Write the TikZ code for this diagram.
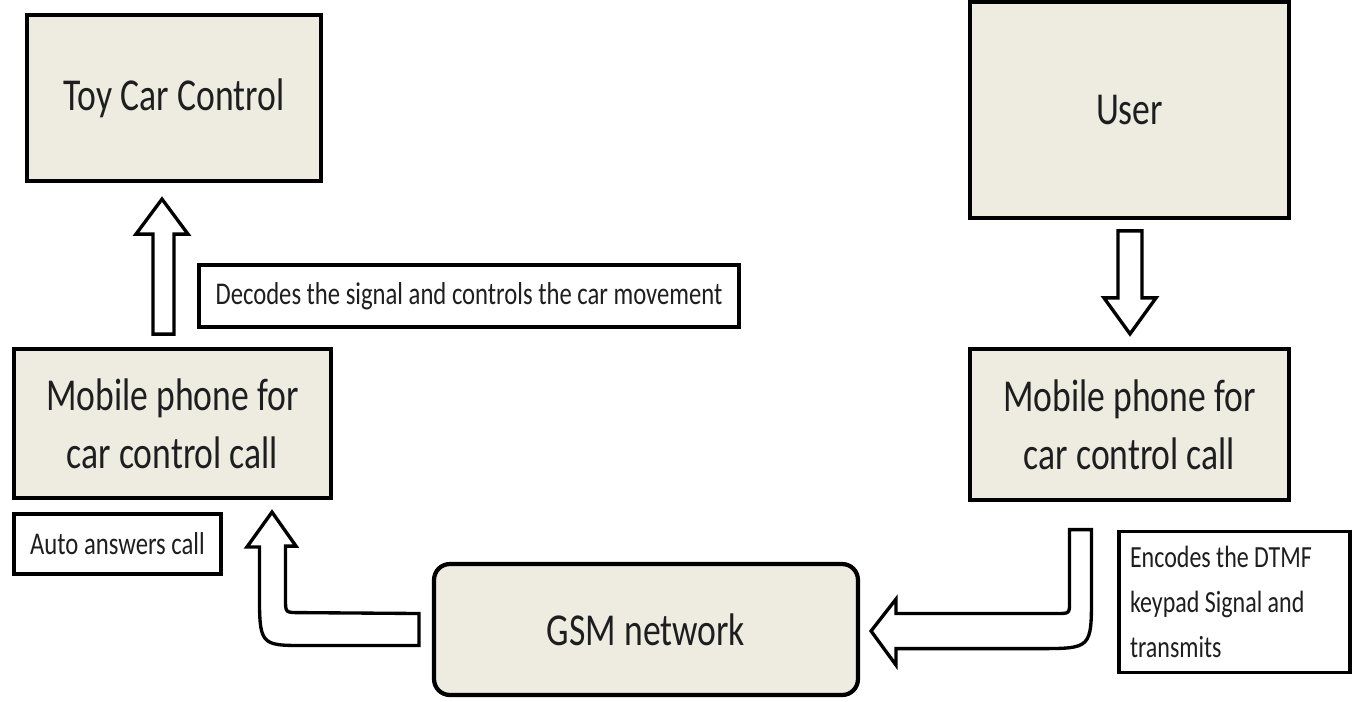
\documentclass[tikz,border=0pt]{standalone}
\usepackage{fontspec}
\setmainfont{Carlito}[FakeStretch=0.78]
\usetikzlibrary{calc}
\definecolor{boxfill}{HTML}{EEECE1}
\definecolor{ink}{HTML}{1E1E1E}
\tikzset{
  bigbox/.style={draw=black, line width=2.4pt, fill=boxfill, text=ink,
    align=center, font=\fontsize{26}{33}\selectfont},
  notebox/.style={draw=black, line width=2.2pt, fill=white, text=ink,
    font=\fontsize{18}{26}\selectfont},
  fatarrow/.style={draw=black, line width=1.9pt, fill=white, line join=miter}
}
\begin{document}
\begin{tikzpicture}[x=0.02cm, y=-0.02cm]
\useasboundingbox (0,0) rectangle (1363,701);

% blocks
\node[bigbox, minimum width=5.88cm, minimum height=3.32cm] (toy) at (174,98) {Toy Car Control};
\node[bigbox, minimum width=6.38cm, minimum height=4.32cm] (user) at (1129.5,110) {User};
\node[bigbox, minimum width=6.34cm, minimum height=2.98cm] (mobL) at (172.5,423.5) {Mobile phone for\\car control call};
\node[bigbox, minimum width=6.38cm, minimum height=3.02cm] (mobR) at (1129.5,424.5) {Mobile phone for\\car control call};
\node[bigbox, rounded corners=9pt, minimum width=8.48cm, minimum height=2.62cm] (gsm) at (646,629.5) {GSM network};

% notes
\node[notebox, minimum width=10.8cm, minimum height=1.24cm] (dec) at (469,296) {Decodes the signal and controls the car movement};
\node[notebox, minimum width=4.14cm, minimum height=1.2cm] (auto) at (117.5,544) {Auto answers call};
\node[notebox, minimum width=4.62cm, minimum height=2.82cm, text width=4.18cm, align=flush left,
  font=\fontsize{17.5}{25.5}\selectfont] (enc) at (1234.5,602) {Encodes the DTMF\\keypad Signal and\\transmits};

% block arrows
\coordinate (upT) at ($(toy.south)+(-12,16)$);
\draw[fatarrow] (upT) -- ++(26,35) -- ++(-14,0) -- ++(0,100) -- ++(-21,0)
  -- ++(0,-100) -- ++(-17,0) -- cycle;

\coordinate (dnT) at ($(mobR.north)+(0.5,-13)$);
\draw[fatarrow] (dnT) -- ++(26,-36) -- ++(-14,0) -- ++(0,-67) -- ++(-24,0)
  -- ++(0,67) -- ++(-14,0) -- cycle;

\coordinate (lfS) at ($(gsm.west)+(-13,0)$);
\draw[fatarrow] ($(mobL.south)+(99.5,12)$) -- ++(24,34) -- ++(-10.5,0) -- ++(0,53)
  .. controls ++(0,13.5) .. ++(13.5,13.5) -- ($(lfS)+(0,-16)$) -- ($(lfS)+(0,16)$)
  -- ++(-114,0) .. controls ++(-45.5,0) .. ++(-45.5,-56.5) -- ++(0,-42) -- ++(-12.5,0) -- cycle;

\coordinate (rtS) at ($(mobR.south)+(-49,27.5)$);
\draw[fatarrow] ($(rtS)+(-11,0)$) -- ++(22,0) -- ++(0,65.5)
  .. controls ++(0,53.5) .. ++(-53.5,53.5) -- ++(-142,0) -- ++(0,16.5)
  -- ($(gsm.east)+(11,1.5)$) -- ++(25,-32) -- ++(0,14.5) -- ++(161,0)
  .. controls ++(12.5,0) .. ++(12.5,-12.5) -- cycle;
\end{tikzpicture}
\end{document}
